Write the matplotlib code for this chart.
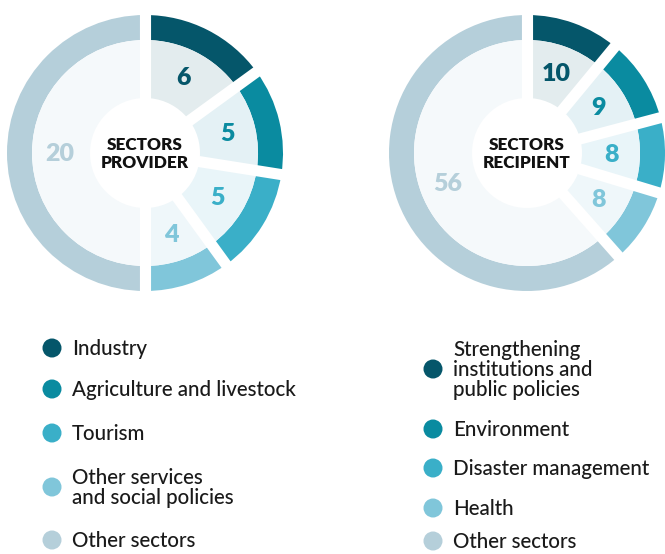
import numpy as np
import matplotlib
matplotlib.use("Agg")
import matplotlib.pyplot as plt
from matplotlib.patches import Wedge, Circle

plt.rcParams['font.family'] = ['Lato', 'DejaVu Sans']

# ---- data ----
provider_labels = ["Industry", "Agriculture and livestock", "Tourism",
                   "Other services\nand social policies", "Other sectors"]
provider_values = [6, 5, 5, 4, 20]
recipient_labels = ["Strengthening\ninstitutions and\npublic policies", "Environment",
                    "Disaster management", "Health", "Other sectors"]
recipient_values = [10, 9, 8, 8, 56]
provider_title = "SECTORS\nPROVIDER"
recipient_title = "SECTORS\nRECIPIENT"

ring_colors = ["#05566a", "#0a8ba0", "#3aafc8", "#80c6da", "#b5cfda"]
fill_colors = ["#e3ecee", "#e4f1f5", "#e9f5f9", "#eff7fa", "#f5f9fb"]

W, H = 665, 554
fig = plt.figure(figsize=(W / 100, H / 100), dpi=100)
ax = fig.add_axes([0, 0, 1, 1])
ax.set_xlim(0, W)
ax.set_ylim(H, 0)
ax.set_aspect('equal')
ax.axis('off')

R_OUT, R_RING, R_HOLE, R_LAB = 138, 113, 55, 85
GAP_LW = 8


def donut(cx, cy, values, title):
    total = float(sum(values))
    start = 90.0
    bounds = [start]
    for i, v in enumerate(values):
        sweep = v / total * 360.0
        a1, a0 = start, start - sweep
        ax.add_patch(Wedge((cx, cy), R_OUT, -a1, -a0, width=R_OUT - R_RING,
                           facecolor=ring_colors[i], edgecolor='none'))
        ax.add_patch(Wedge((cx, cy), R_RING, -a1, -a0,
                           facecolor=fill_colors[i], edgecolor='none'))
        mid = np.deg2rad((a0 + a1) / 2)
        ax.text(cx + R_LAB * np.cos(mid), cy - R_LAB * np.sin(mid) + 1, str(values[i]),
                ha='center', va='center', fontsize=18, fontweight='heavy',
                color=ring_colors[i])
        start = a0
        bounds.append(start)
    for b in bounds[:-1]:
        t = np.deg2rad(b)
        ax.plot([cx, cx + (R_OUT + 5) * np.cos(t)], [cy, cy - (R_OUT + 5) * np.sin(t)],
                color='white', lw=GAP_LW, solid_capstyle='butt', zorder=3)
    ax.add_patch(Circle((cx, cy), R_HOLE, facecolor='white', edgecolor='none', zorder=4))
    ax.text(cx, cy + 1, title, ha='center', va='center', fontsize=12.3,
            fontweight='heavy', color='#111111', linespacing=1.15, zorder=5)


donut(145, 153, provider_values, provider_title)
donut(527, 153, recipient_values, recipient_title)


def legend(x, ys, labels):
    for i, (y, lab) in enumerate(zip(ys, labels)):
        ax.add_patch(Circle((x, y), 9.5, facecolor=ring_colors[i], edgecolor='none'))
        ax.text(x + 20, y + 1, lab, ha='left', va='center', fontsize=14.8,
                color='#1a1a1a', linespacing=1.03, fontweight='medium')


legend(52, [348, 389, 433, 487, 540], provider_labels)
legend(433, [369, 429, 468, 508, 541], recipient_labels)

fig.savefig("out.png", dpi=100, facecolor='white')
